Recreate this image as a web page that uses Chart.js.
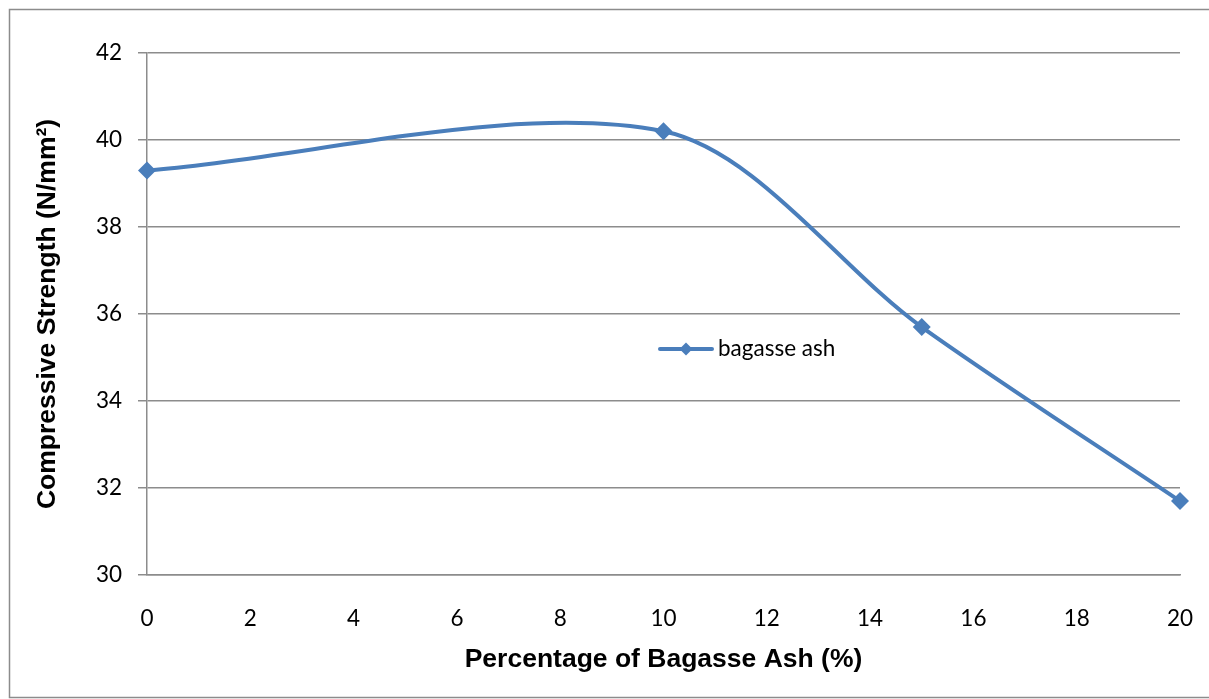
<!DOCTYPE html>
<html>
<head>
<meta charset="utf-8">
<script src="https://cdn.jsdelivr.net/npm/chart.js@4.4.1/dist/chart.umd.min.js"></script>
<style>
  html, body { margin: 0; padding: 0; background: #ffffff; }
  #wrap { position: relative; width: 1209px; height: 699px; }
</style>
</head>
<body>
<div id="wrap"><canvas id="c" width="1209" height="699"></canvas></div>
<script>
// Ash replacement level (%) and measured compressive strength (N/mm²)
const ashPercent = [0, 10, 15, 20];
const strength = [39.3, 40.2, 35.7, 31.7];
const seriesLabel = 'bagasse ash';
const xTicks = [0, 2, 4, 6, 8, 10, 12, 14, 16, 18, 20];
const yTicks = [30, 32, 34, 36, 38, 40, 42];

const lineBlue = '#4A7EBB';
const gridGray = '#8c8c8c';

// Outer frame around the whole figure
const framePlugin = {
  id: 'frame',
  afterDraw(chart) {
    const ctx = chart.ctx;
    ctx.save();
    ctx.strokeStyle = gridGray;
    ctx.lineWidth = 1.5;
    ctx.strokeRect(9.5, 9.5, 1215, 688);
    ctx.restore();
  }
};

// Legend drawn inside the plot area
const innerLegend = {
  id: 'innerLegend',
  afterDatasetsDraw(chart) {
    const ctx = chart.ctx;
    const ds = chart.data.datasets[0];
    const x0 = 660, x1 = 712, y = 349;
    ctx.save();
    ctx.strokeStyle = ds.borderColor;
    ctx.lineWidth = 4;
    ctx.lineCap = 'round';
    ctx.beginPath();
    ctx.moveTo(x0, y);
    ctx.lineTo(x1, y);
    ctx.stroke();
    ctx.fillStyle = ds.borderColor;
    const r = 6.5, cx = (x0 + x1) / 2;
    ctx.beginPath();
    ctx.moveTo(cx, y - r);
    ctx.lineTo(cx + r, y);
    ctx.lineTo(cx, y + r);
    ctx.lineTo(cx - r, y);
    ctx.closePath();
    ctx.fill();
    ctx.fillStyle = '#000';
    ctx.font = '22.5px Lato';
    ctx.textBaseline = 'middle';
    ctx.fillText(ds.label, 718, y);
    ctx.restore();
  }
};

new Chart(document.getElementById('c'), {
  type: 'line',
  data: {
    datasets: [{
      label: seriesLabel,
      data: ashPercent.map((x, i) => ({ x: x, y: strength[i] })),
      borderColor: lineBlue,
      backgroundColor: lineBlue,
      borderWidth: 4,
      tension: 0.31,
      pointStyle: 'rectRot',
      pointRadius: 9,
      pointBackgroundColor: lineBlue,
      pointBorderColor: lineBlue,
      pointBorderWidth: 0,
      clip: false
    }]
  },
  options: {
    responsive: false,
    animation: false,
    devicePixelRatio: 1,
    layout: { padding: { left: 0, right: 29, top: 53, bottom: 0 } },
    plugins: {
      legend: { display: false },
      tooltip: { enabled: false }
    },
    scales: {
      x: {
        type: 'linear',
        min: 0,
        max: 20,
        afterBuildTicks(scale) { scale.ticks = xTicks.map(v => ({ value: v })); },
        afterFit(scale) {
          scale.height = 124;
          scale.paddingLeft = 0;
          scale.paddingRight = 0;
        },
        grid: { display: false },
        border: { display: true, color: gridGray, width: 1.5 },
        ticks: {
          color: '#000',
          font: { family: 'Lato', size: 22.5 },
          padding: 22,
          maxRotation: 0
        },
        title: {
          display: true,
          text: 'Percentage of Bagasse Ash (%)',
          color: '#000',
          font: { family: 'Liberation Sans', size: 26.5, weight: 'bold' },
          padding: { top: 0, bottom: 23 }
        }
      },
      y: {
        type: 'linear',
        min: 30,
        max: 42,
        afterBuildTicks(scale) { scale.ticks = yTicks.map(v => ({ value: v })); },
        afterFit(scale) { scale.width = 147; },
        grid: {
          color: gridGray,
          lineWidth: 1.5,
          tickLength: 9,
          drawTicks: true
        },
        border: { display: true, color: gridGray, width: 1.5 },
        ticks: {
          color: '#000',
          font: { family: 'Lato', size: 22.5 },
          padding: 16
        },
        title: {
          display: true,
          text: 'Compressive Strength (N/mm²)',
          color: '#000',
          font: { family: 'Liberation Sans', size: 26.5, weight: 'bold' },
          padding: { top: 32, bottom: 0 }
        }
      }
    }
  },
  plugins: [framePlugin, innerLegend]
});
</script>
</body>
</html>
